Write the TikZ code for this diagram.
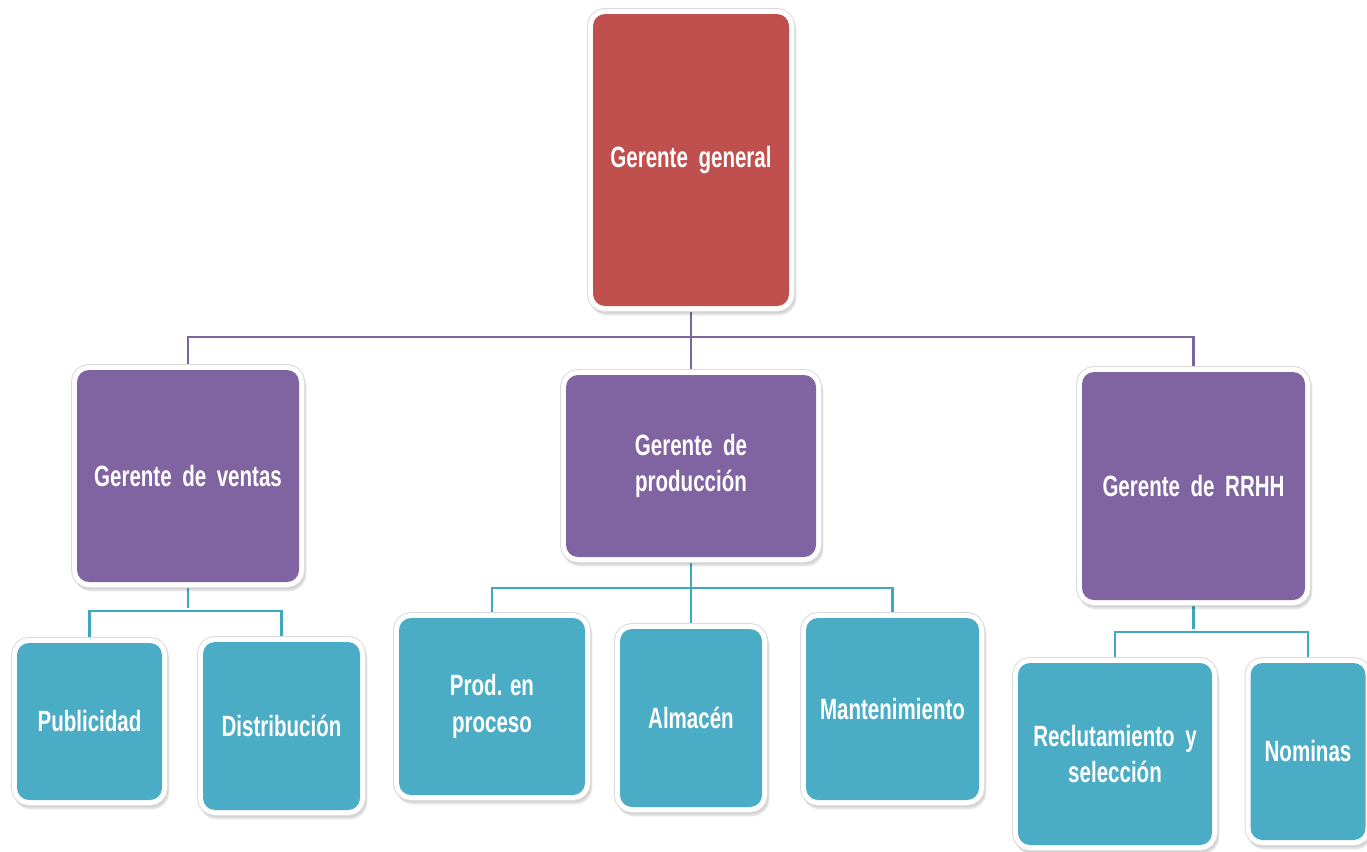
\documentclass[tikz,border=0pt]{standalone}
\usepackage{fontspec}
\newfontfamily\boxfont{Liberation Sans}[FakeStretch=0.70]
\newcommand{\orgboxfont}{\boxfont\bfseries\fontsize{22}{27.5}\selectfont}
\pgfdeclarelayer{bottom}
\pgfdeclarelayer{background}
\pgfsetlayers{bottom,background,main}
\definecolor{cred}{HTML}{C0504D}
\definecolor{cpurple}{HTML}{8064A2}
\definecolor{cteal}{HTML}{4BACC6}
\definecolor{lpurple}{HTML}{7A669E}
\definecolor{lteal}{HTML}{41A6BF}
\tikzset{
  orgbox/.style={rectangle, rounded corners=9pt, inner sep=2pt, outer sep=0pt,
    text=white, align=center, font=\orgboxfont,
    preaction={fill=black, draw=black, line width=8pt, opacity=0.10,
      transform canvas={xshift=1.5pt, yshift=-3pt}},
    preaction={fill=black, draw=black, line width=8pt, opacity=0.08,
      transform canvas={xshift=0.8pt, yshift=-1.6pt}},
    preaction={draw=black!14, line width=9pt},
    preaction={draw=white, line width=7.5pt}},
  pline/.style={draw=lpurple, line width=2.2pt, shorten <=2pt, shorten >=2pt},
  tline/.style={draw=lteal, line width=2.2pt, shorten <=2pt, shorten >=2pt}
}
\newcommand{\wsp}{\hspace{0.36em}}
\begin{document}
\begin{tikzpicture}[x=0.75pt,y=-0.75pt]
\useasboundingbox (0,0) rectangle (1367,851);
\begin{pgfonlayer}{bottom}
\fill[white] (0,0) rectangle (1367,851);
\end{pgfonlayer}

% level 0
\node[orgbox, fill=cred, minimum width=147pt, minimum height=219pt] (gg) at (691,160) {Gerente\wsp general};

% level 1
\node[orgbox, fill=cpurple, minimum width=166.5pt, minimum height=159pt] (ventas) at (188,476) {Gerente\wsp de\wsp ventas};
\node[orgbox, fill=cpurple, minimum width=187.5pt, minimum height=136.5pt] (prod) at (691,466) {Gerente\wsp de\\producción};
\node[orgbox, fill=cpurple, minimum width=167.25pt, minimum height=171pt] (rrhh) at (1193.5,486) {Gerente\wsp de\wsp RRHH};

% level 2
\node[orgbox, fill=cteal, minimum width=108.75pt, minimum height=117.75pt] (pub) at (89.5,721.5) {Publicidad};
\node[orgbox, fill=cteal, minimum width=117.75pt, minimum height=126pt] (dist) at (281.5,726) {Distribución};
\node[orgbox, fill=cteal, minimum width=139.5pt, minimum height=132.75pt] (pp) at (492,706.5) {Prod. en\\proceso};
\node[orgbox, fill=cteal, minimum width=106.5pt, minimum height=133.5pt] (alm) at (691,718) {Almacén};
\node[orgbox, fill=cteal, minimum width=129.75pt, minimum height=136.5pt] (mant) at (892.5,709) {Mantenimiento};
\node[orgbox, fill=cteal, minimum width=145.5pt, minimum height=136.5pt] (rec) at (1115,754) {Reclutamiento\wsp y\\selección};
\node[orgbox, fill=cteal, minimum width=86.25pt, minimum height=132.75pt] (nom) at (1308,751.5) {Nominas};

\coordinate (j0) at (691,337);
\coordinate (j1) at (188,611);
\coordinate (j2) at (691,588);
\coordinate (j3) at (1193.5,632);

\begin{pgfonlayer}{background}
\draw[pline] (gg.south) -- (prod.north);
\draw[pline] (ventas.north) |- (j0) -| (rrhh.north);
\draw[tline] (ventas.south) -- (j1);
\draw[tline] (pub.north) |- (j1) -| (dist.north);
\draw[tline] (prod.south) -- (alm.north);
\draw[tline] (pp.north) |- (j2) -| (mant.north);
\draw[tline] (rrhh.south) -- (j3);
\draw[tline] (rec.north) |- (j3) -| (nom.north);
\end{pgfonlayer}
\end{tikzpicture}
\end{document}
